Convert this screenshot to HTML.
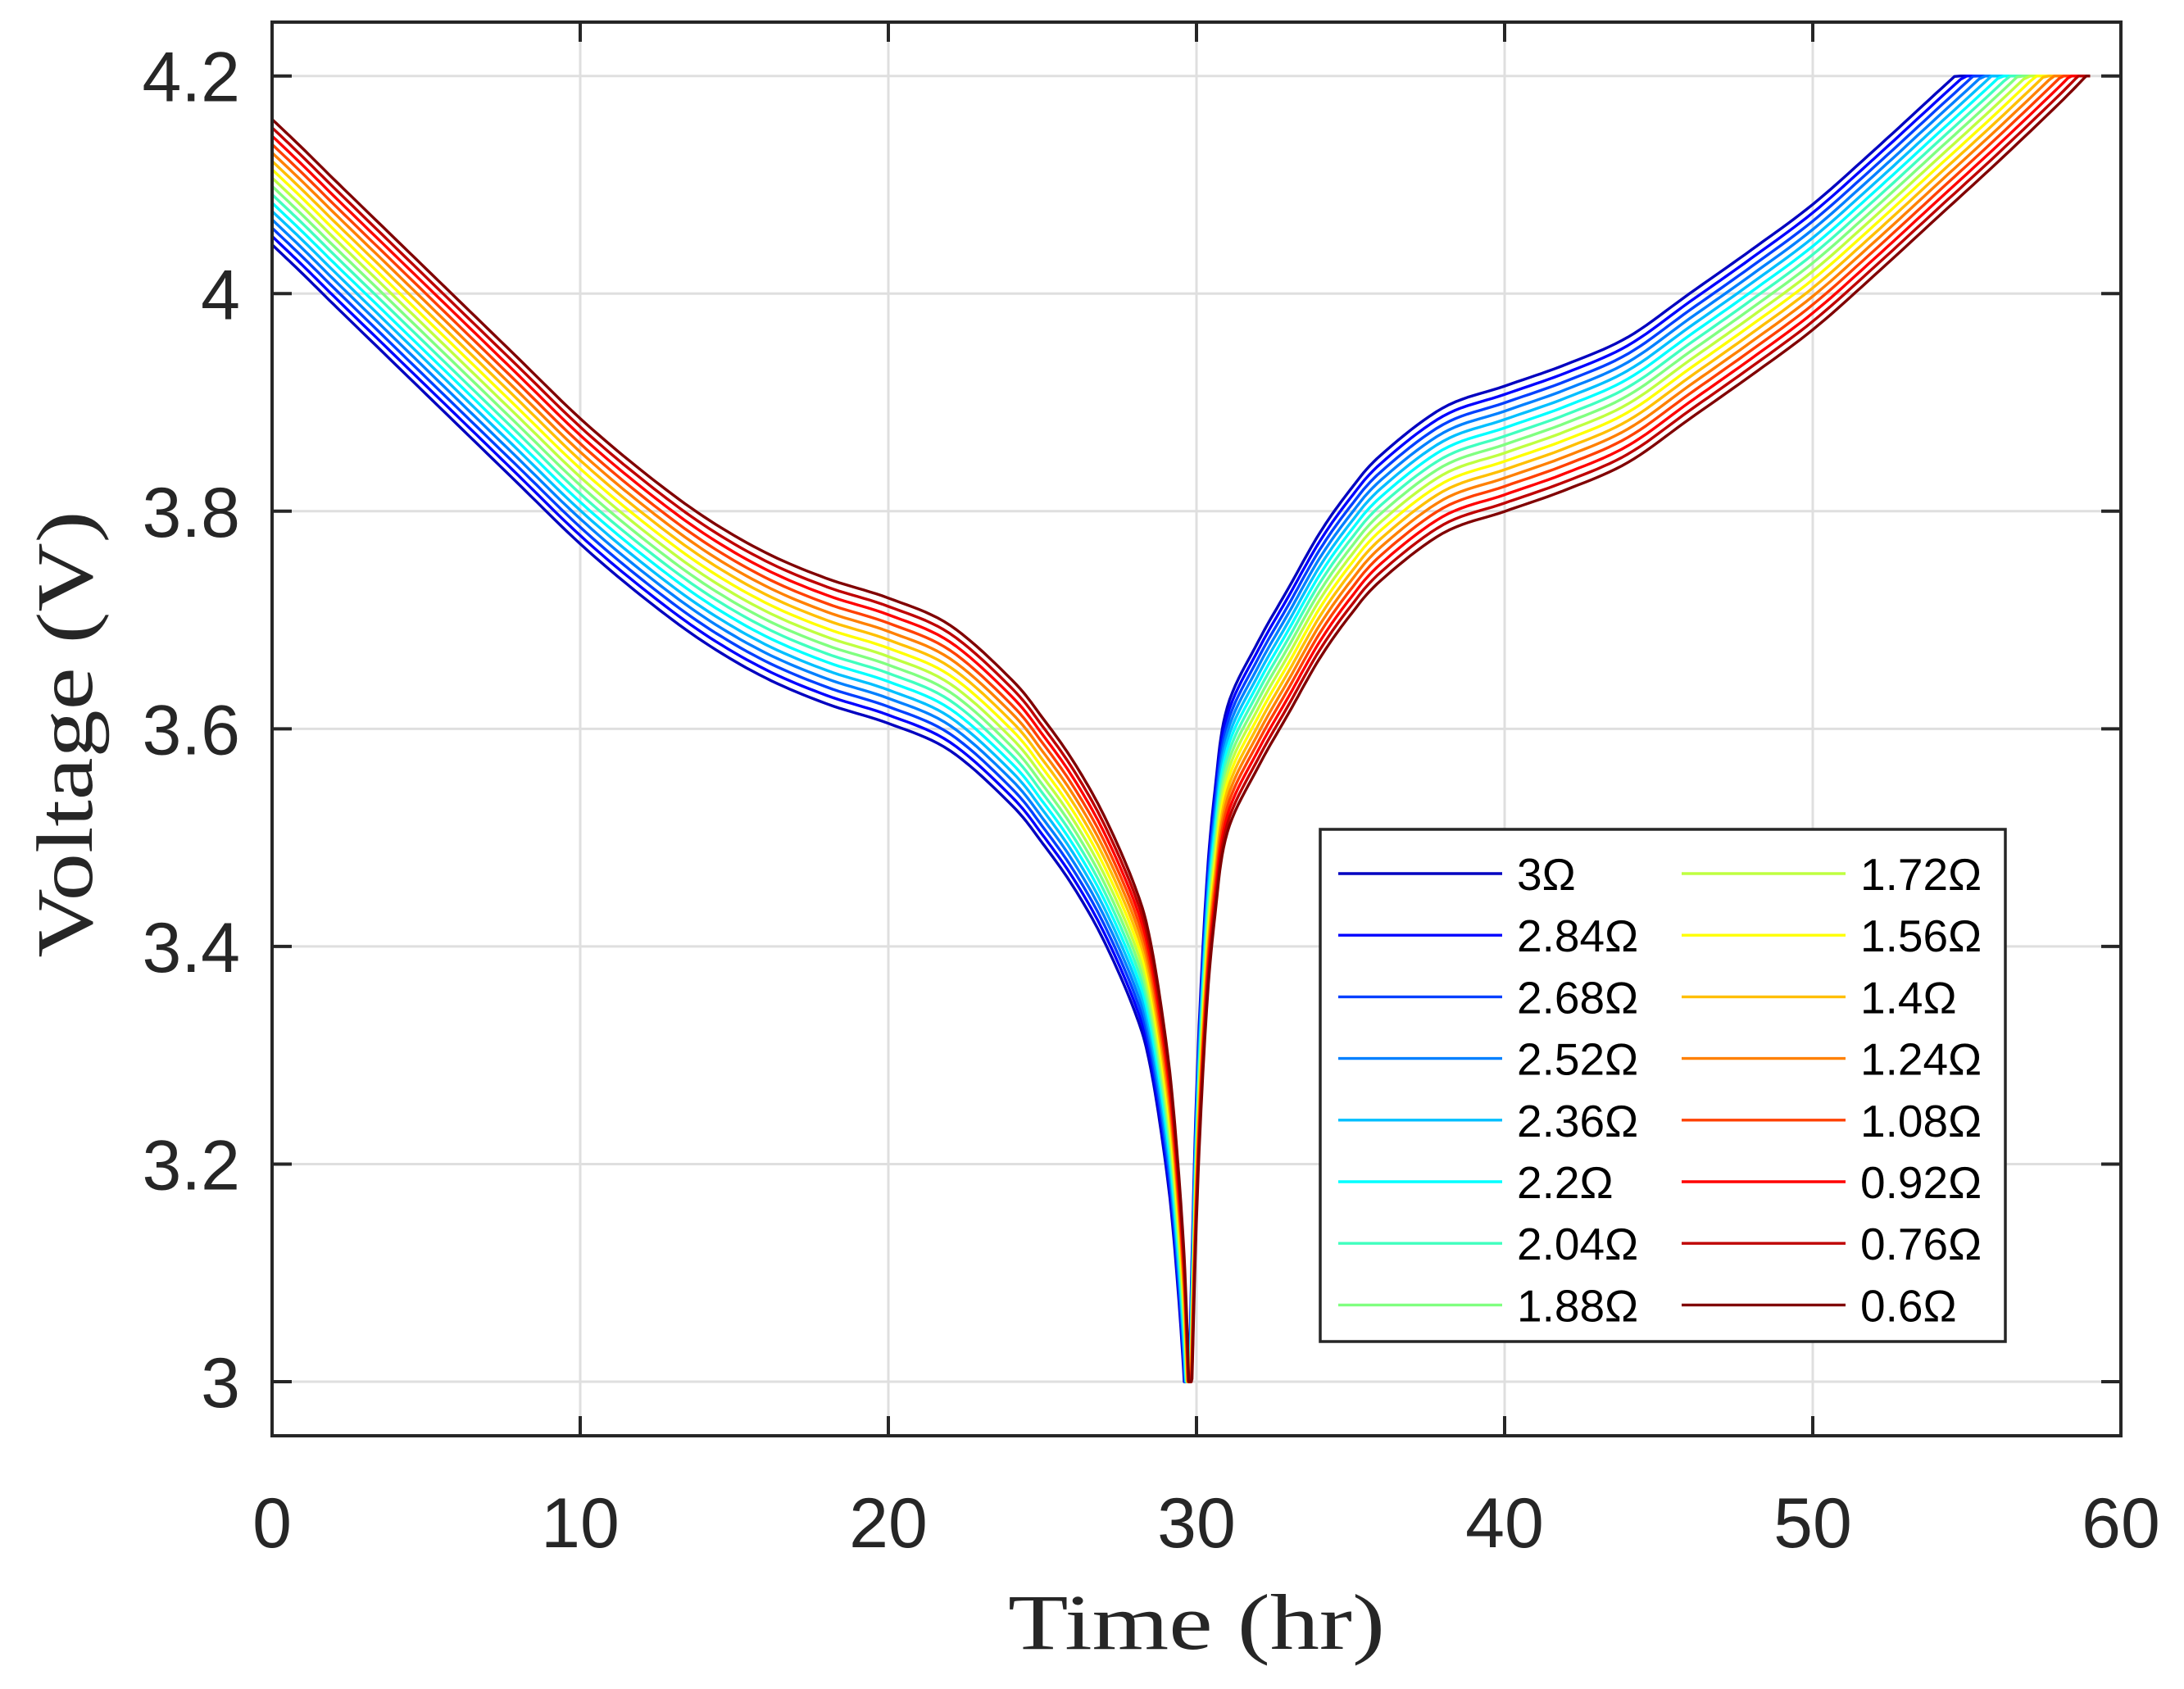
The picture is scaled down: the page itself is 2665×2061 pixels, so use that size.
<!DOCTYPE html>
<html><head><meta charset="utf-8"><style>
html,body{margin:0;padding:0;background:#fff;}
svg{display:block;}
</style></head><body>
<svg id="chart" width="2665" height="2061" viewBox="0 0 2665 2061" xmlns="http://www.w3.org/2000/svg">
<rect x="0" y="0" width="2665" height="2061" fill="#fff"/>
<g id="grid"></g>
<g id="series"></g>
<g id="axes"></g>
<g id="legend"></g>
<text x="1460" y="2012" font-family="'Liberation Serif',serif" font-size="96" text-anchor="middle" textLength="460" lengthAdjust="spacingAndGlyphs" fill="#262626">Time (hr)</text>
<text x="0" y="0" transform="translate(112,896) rotate(-90)" font-family="'Liberation Serif',serif" font-size="98" text-anchor="middle" textLength="545" lengthAdjust="spacingAndGlyphs" fill="#262626">Voltage (V)</text>
</svg>
<script>
const resistances = [3, 2.84, 2.68, 2.52, 2.36, 2.2, 2.04, 1.88, 1.72, 1.56, 1.4, 1.24, 1.08, 0.92, 0.76, 0.6];
const seriesColors = ['#0000c0','#0000ff','#0040ff','#0080ff','#00bfff','#00ffff','#40ffbf','#80ff80','#bfff40','#ffff00','#ffbf00','#ff8000','#ff4000','#ff0000','#bf0000','#800000'];
const legendLabels = ['3Ω','2.84Ω','2.68Ω','2.52Ω','2.36Ω','2.2Ω','2.04Ω','1.88Ω','1.72Ω','1.56Ω','1.4Ω','1.24Ω','1.08Ω','0.92Ω','0.76Ω','0.6Ω'];
const dischargeTime = [0,1,2,4,6,8,10,12,14,16,18,20,22,24,25,26,27,28,28.5,29,29.3,29.6,29.75];
const dischargeOcv = [4.189,4.162,4.134,4.079,4.024,3.969,3.914,3.866,3.824,3.791,3.767,3.749,3.724,3.674,3.639,3.599,3.549,3.484,3.434,3.344,3.264,3.144,3.03];
const chargeTime = [29.75,30.0,30.3,30.6,31,32,33,34,35,36,38,40,42,44,46,48,50,52,54,56,58,59];
const chargeOcv = [2.85,3.12,3.3,3.40,3.476,3.536,3.586,3.636,3.676,3.708,3.751,3.771,3.791,3.816,3.856,3.896,3.938,3.988,4.04,4.092,4.146,4.175];
const currentA = 0.048;
const xTicks = [0,10,20,30,40,50,60];
const xTickLabels = ['0','10','20','30','40','50','60'];
const yTicks = [3,3.2,3.4,3.6,3.8,4,4.2];
const yTickLabels = ['3','3.2','3.4','3.6','3.8','4','4.2'];

const L=332,R=2588,T=27,B=1752;
const X0=0,X1=60,Y0=3,Y1=4.2, yTopPix=92.7, yBotPix=1686;
function xs(t){return L+(t-X0)/(X1-X0)*(R-L);}
function ys(v){return yBotPix-(v-Y0)/(Y1-Y0)*(yBotPix-yTopPix);}
const NS='http://www.w3.org/2000/svg';
function mk(tag,attrs,parent){const e=document.createElementNS(NS,tag);for(const k in attrs)e.setAttribute(k,attrs[k]);parent.appendChild(e);return e;}
const grid=document.getElementById('grid'),axes=document.getElementById('axes'),series=document.getElementById('series'),legend=document.getElementById('legend');

xTicks.forEach((t,i)=>{
  const g=mk('line',{x1:xs(t),x2:xs(t),y1:T,y2:B,stroke:'#dfdfdf','stroke-width':3},grid);
  
  
  const a=mk('line',{x1:xs(t),x2:xs(t),y1:B,y2:B-24,stroke:'#262626','stroke-width':4},axes);
  
  
  const b=mk('line',{x1:xs(t),x2:xs(t),y1:T,y2:T+24,stroke:'#262626','stroke-width':4},axes);
  
  
  const tx=mk('text',{x:xs(t),y:1888,'font-family':"'Liberation Sans',sans-serif",'font-size':86,'text-anchor':'middle',fill:'#262626'},axes);
  tx.textContent=xTickLabels[i];
  
  
});
yTicks.forEach((v,i)=>{
  const g=mk('line',{x1:L,x2:R,y1:ys(v),y2:ys(v),stroke:'#dfdfdf','stroke-width':3},grid);
  
  
  const a=mk('line',{x1:L,x2:L+24,y1:ys(v),y2:ys(v),stroke:'#262626','stroke-width':4},axes);
  
  
  const b=mk('line',{x1:R,x2:R-24,y1:ys(v),y2:ys(v),stroke:'#262626','stroke-width':4},axes);
  
  
  const tx=mk('text',{x:293,y:ys(v)+31,'font-family':"'Liberation Sans',sans-serif",'font-size':86,'text-anchor':'end',fill:'#262626'},axes);
  tx.textContent=yTickLabels[i];
  
  
});
const frame=mk('rect',{x:L,y:T,width:R-L,height:B-T,fill:'none',stroke:'#262626','stroke-width':4},axes);



function clamp(v){return Math.max(Y0,Math.min(Y1,v));}
function smooth(pts){
  const out=[];
  for(let i=0;i<pts.length-1;i++){
    const p0=pts[Math.max(0,i-1)],p1=pts[i],p2=pts[i+1],p3=pts[Math.min(pts.length-1,i+2)];
    for(let s=0;s<10;s++){
      const u=s/10,u2=u*u,u3=u2*u;
      const f=(a,b,c,d)=>0.5*(2*b+(-a+c)*u+(2*a-5*b+4*c-d)*u2+(-a+3*b-3*c+d)*u3);
      out.push([f(p0[0],p1[0],p2[0],p3[0]),f(p0[1],p1[1],p2[1],p3[1])]);
    }
  }
  out.push(pts[pts.length-1]);
  return out;
}
resistances.forEach((r,i)=>{
  const d=dischargeTime.map((t,j)=>[t,dischargeOcv[j]-currentA*r]);
  const c=chargeTime.map((t,j)=>[t,chargeOcv[j]+currentA*r]);
  const pts=smooth(d).concat(smooth(c)).map(q=>[q[0],clamp(q[1])]);
  const p=mk('polyline',{points:pts.map(q=>xs(q[0]).toFixed(1)+','+ys(q[1]).toFixed(1)).join(' '),fill:'none',stroke:seriesColors[i],'stroke-width':3.4,'stroke-linejoin':'round'},series);
  
  
});

const lb=mk('rect',{x:1611,y:1012,width:836,height:625,fill:'#fff',stroke:'#262626','stroke-width':3.5},legend);


legendLabels.forEach((lab,i)=>{
  const col=Math.floor(i/8),row=i%8;
  const y=1066+row*75.2;
  const x0=col?2052:1633;
  const g=mk('g',{},legend);
  
  
  mk('line',{x1:x0,x2:x0+200,y1:y,y2:y,stroke:seriesColors[i],'stroke-width':3.4},g);
  const t=mk('text',{x:x0+218,y:y+20,'font-family':"'Liberation Sans',sans-serif",'font-size':55,fill:'#000'},g);
  t.textContent=lab;
});
</script>
</body></html>
